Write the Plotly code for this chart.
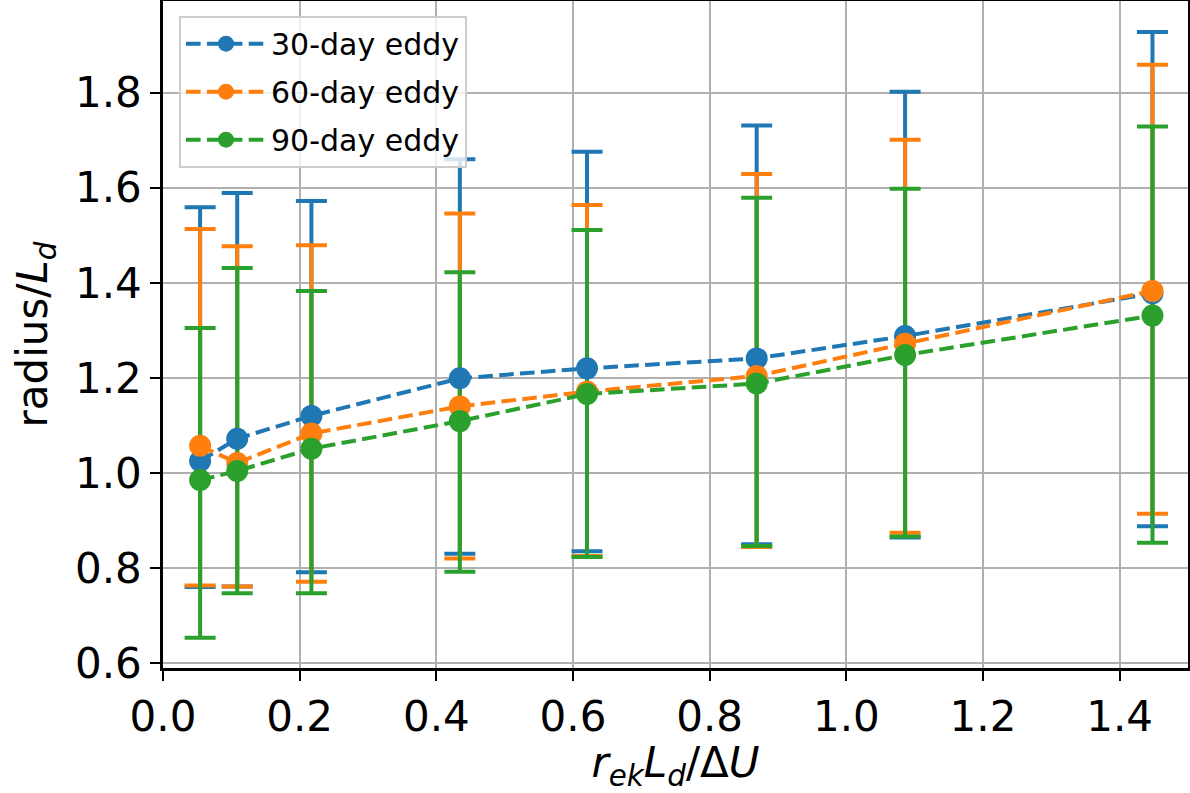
import plotly.graph_objects as go

# ---- data ----
x_vals = [0.0543, 0.1086, 0.2172, 0.4344, 0.6205, 0.8688, 1.086, 1.448]

mean_30 = [1.025, 1.072, 1.120, 1.199, 1.220, 1.241, 1.288, 1.378]
upper_30 = [1.559, 1.589, 1.572, 1.660, 1.676, 1.731, 1.802, 1.928]
lower_30 = [0.760, 0.761, 0.791, 0.830, 0.835, 0.850, 0.864, 0.888]

mean_60 = [1.057, 1.021, 1.083, 1.140, 1.171, 1.204, 1.272, 1.383]
upper_60 = [1.513, 1.477, 1.479, 1.546, 1.564, 1.629, 1.701, 1.859]
lower_60 = [0.763, 0.761, 0.771, 0.820, 0.825, 0.844, 0.874, 0.914]

mean_90 = [0.985, 1.004, 1.051, 1.109, 1.166, 1.188, 1.248, 1.331]
upper_90 = [1.305, 1.431, 1.383, 1.422, 1.511, 1.579, 1.598, 1.729]
lower_90 = [0.653, 0.747, 0.747, 0.792, 0.823, 0.846, 0.866, 0.853]

series_names = ["30-day eddy", "60-day eddy", "90-day eddy"]
series_colors = ["#1f77b4", "#ff7f0e", "#2ca02c"]

x_ticks = [0.0, 0.2, 0.4, 0.6, 0.8, 1.0, 1.2, 1.4]
y_ticks = [0.6, 0.8, 1.0, 1.2, 1.4, 1.6, 1.8]

series = [
    (mean_30, upper_30, lower_30),
    (mean_60, upper_60, lower_60),
    (mean_90, upper_90, lower_90),
]

FONT = "DejaVu Sans"
fig = go.Figure()

# error bars first (drawn beneath all lines/markers, like matplotlib)
for (m, up, lo), name, col in zip(series, series_names, series_colors):
    plus = [u - v for u, v in zip(up, m)]
    minus = [v - l for v, l in zip(m, lo)]
    fig.add_trace(go.Scatter(
        x=x_vals, y=m, mode="markers",
        marker=dict(size=1, color="rgba(0,0,0,0)"),
        error_y=dict(type="data", symmetric=False, array=plus, arrayminus=minus,
                     color=col, thickness=4, width=15.5),
        showlegend=False, hoverinfo="skip",
    ))

# dashed lines with markers
for (m, up, lo), name, col in zip(series, series_names, series_colors):
    fig.add_trace(go.Scatter(
        x=x_vals, y=m, mode="lines+markers", name=name, legendgroup=name,
        line=dict(color=col, width=4, dash="14.6px,6.3px"),
        marker=dict(color=col, size=22),
    ))

axis_common = dict(
    showline=True, linecolor="black", linewidth=2.5, mirror=True,
    ticks="outside", ticklen=10, tickwidth=2, tickcolor="black",
    showgrid=True, gridcolor="#b0b0b0", gridwidth=2,
    zeroline=False, automargin=False,
    tickfont=dict(family=FONT, size=42, color="black"),
)

fig.update_xaxes(
    range=[0, 1.5], tickvals=x_ticks, ticktext=[f"{v:.1f}" for v in x_ticks],
    title=dict(text="<i>r</i><sub><i>ek</i></sub><i>L</i><sub><i>d</i></sub>/Δ<i>U</i>",
               font=dict(family=FONT, size=42, color="black")),
    **axis_common,
)
fig.update_yaxes(
    range=[0.5895, 1.993], tickvals=y_ticks, ticktext=[f"{v:.1f}" for v in y_ticks],
    title=dict(text="radius/<i>L</i><sub><i>d</i></sub>",
               font=dict(family=FONT, size=42, color="black")),
    **axis_common,
)

fig.update_layout(
    width=1190, height=793,
    margin=dict(l=163, r=2, t=1, b=125, autoexpand=False),
    paper_bgcolor="white", plot_bgcolor="white",
    font=dict(family=FONT, color="black"),
    legend=dict(
        x=0.0156, y=0.978, xanchor="left", yanchor="top",
        bgcolor="rgba(255,255,255,0.8)", bordercolor="#cccccc", borderwidth=2,
        font=dict(family=FONT, size=30, color="black"),
        itemwidth=80, tracegroupgap=6,
    ),
)

fig.write_html(
    "out.html",
    config={"displayModeBar": False},
    post_script="document.body.style.margin='0';document.body.style.padding='0';",
)
